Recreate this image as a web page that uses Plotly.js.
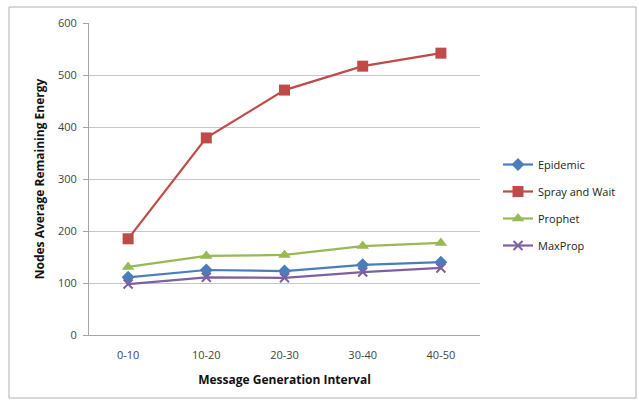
<!DOCTYPE html>
<html>
<head>
<meta charset="utf-8">
<script src="https://cdn.plot.ly/plotly-3.0.1.min.js"></script>
<style>html,body{margin:0;padding:0;background:#fff;}#chart{width:639px;height:402px;}</style>
</head>
<body>
<div id="chart"></div>
<script>
var categories = ["0-10", "10-20", "20-30", "30-40", "40-50"];
var epidemic = [111, 125, 123, 135, 140];
var sprayAndWait = [185, 379, 471, 517, 542];
var prophet = [131, 152, 154, 171, 177];
var maxProp = [98, 111, 110, 121, 129];
var seriesNames = ["Epidemic", "Spray and Wait", "Prophet", "MaxProp"];
var yTicks = [0, 100, 200, 300, 400, 500, 600];

var font = "'Open Sans', 'DejaVu Sans', sans-serif";
function tr(name, y, color, symbol, size) {
  return {
    x: categories, y: y, name: name, type: "scatter", mode: "lines+markers",
    legendgroup: name,
    line: {color: color, width: 2.2},
    marker: {color: color, symbol: symbol, size: size, line: {color: color, width: symbol === "x-thin" ? 2 : 0}}
  };
}
var data = [
  tr(seriesNames[0], epidemic, "#4a7ebb", "diamond", 10),
  tr(seriesNames[1], sprayAndWait, "#be4b48", "square", 11),
  tr(seriesNames[2], prophet, "#98b954", "triangle-up", 11),
  tr(seriesNames[3], maxProp, "#7d60a0", "x-thin", 9)
];
var L = 89, R = 159, T = 23, B = 67, W = 639, H = 402;
var pw = W - L - R, ph = H - T - B;
var layout = {
  width: W, height: H,
  margin: {l: L, r: R, t: T, b: B, pad: 0},
  paper_bgcolor: "#fff", plot_bgcolor: "#fff",
  font: {family: font, size: 11, color: "#333"},
  showlegend: true,
  legend: {x: (498 - L) / pw, xanchor: "left", y: (335 - 150) / ph, yanchor: "top",
           font: {family: font, size: 11, color: "#222"}, tracegroupgap: 8, itemwidth: 30,
           bgcolor: "rgba(0,0,0,0)"},
  xaxis: {
    type: "category", range: [-0.5, 4.5], showgrid: false, zeroline: false,
    showline: true, linecolor: "#a6a6a6", linewidth: 1,
    ticks: "", ticklabelstandoff: 10, tickfont: {family: font, size: 11, color: "#444"},
    title: {text: "Message Generation Interval", font: {family: font, size: 12, color: "#111", weight: "bold"}, standoff: 14}
  },
  yaxis: {
    range: [0, 600], tickvals: yTicks, showgrid: true, gridcolor: "#c6c6c6", gridwidth: 1,
    zeroline: false, showline: true, linecolor: "#a6a6a6", linewidth: 1,
    ticks: "outside", ticklen: 5, tickcolor: "#a6a6a6", ticklabelstandoff: 4,
    tickfont: {family: font, size: 11, color: "#444"},
    title: {text: "Nodes Average Remaining Energy", font: {family: font, size: 12, color: "#111", weight: "bold"}, standoff: 10}
  },
  shapes: [{
    type: "rect", xref: "paper", yref: "paper",
    x0: (9 - L) / pw, x1: (636 - L) / pw, y0: (335 - 398) / ph, y1: (335 - 7) / ph,
    line: {color: "#b0b0b0", width: 1}, fillcolor: "rgba(0,0,0,0)", layer: "below"
  }]
};
Plotly.newPlot("chart", data, layout, {staticPlot: true, displayModeBar: false});
</script>
</body>
</html>
